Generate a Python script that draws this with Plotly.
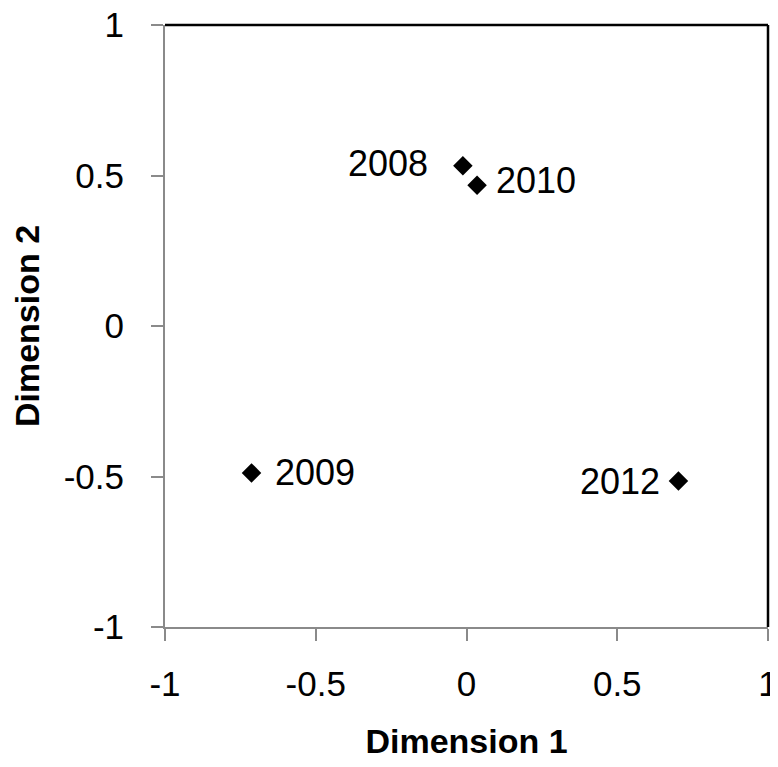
import plotly.graph_objects as go

years = ["2008", "2009", "2010", "2012"]
dim1 = [-0.012, -0.713, 0.035, 0.703]
dim2 = [0.532, -0.488, 0.468, -0.515]
label_side = ["left", "right", "right", "left"]
tick_vals = [-1, -0.5, 0, 0.5, 1]
tick_text = ["-1", "-0.5", "0", "0.5", "1"]

# label offsets in pixels (presentation only)
label_dx = [-33, 21, 17, -16]
label_dy = [2, 0, 5, 0]

FONT = "Liberation Sans, Arial, sans-serif"

fig = go.Figure()
fig.add_trace(go.Scatter(
    x=dim1, y=dim2, mode="markers",
    marker=dict(symbol="diamond", size=15, color="black"),
    hoverinfo="skip", showlegend=False,
))

annotations = []
for yr, xv, yv, side, dx, dy in zip(years, dim1, dim2, label_side, label_dx, label_dy):
    annotations.append(dict(
        x=xv, y=yv, xref="x", yref="y", text=yr, showarrow=False,
        xanchor="right" if side == "left" else "left",
        xshift=dx, yshift=dy,
        font=dict(family=FONT, size=36, color="black"),
    ))

axis_common = dict(
    range=[-1, 1], tickvals=tick_vals, ticktext=tick_text,
    showgrid=False, zeroline=False, showline=True, automargin=False,
    linecolor="#8a8a8a", linewidth=2, ticks="outside", ticklen=12,
    tickwidth=2, tickcolor="#8a8a8a", ticklabeloverflow="allow",
    tickfont=dict(family=FONT, size=35, color="black"),
)

# page body adds an 8px offset, so the figure is 8px smaller than the window
fig.update_layout(
    width=770, height=759,
    margin=dict(l=157, r=10, t=17, b=140),
    paper_bgcolor="white", plot_bgcolor="white",
    xaxis=dict(**axis_common, ticklabelstandoff=13,
               title=dict(text="<b>Dimension 1</b>", standoff=27,
                          font=dict(family=FONT, size=34, color="black"))),
    yaxis=dict(**axis_common, ticklabelstandoff=20,
               title=dict(text="<b>Dimension 2</b>", standoff=17,
                          font=dict(family=FONT, size=34, color="black"))),
    annotations=annotations,
    shapes=[
        dict(type="line", xref="paper", yref="paper", x0=0, x1=1, y0=1, y1=1,
             line=dict(color="black", width=2.5)),
        dict(type="line", xref="paper", yref="paper", x0=1, x1=1, y0=0, y1=1,
             line=dict(color="black", width=2.5)),
    ],
)

fig.write_html("out.html")
